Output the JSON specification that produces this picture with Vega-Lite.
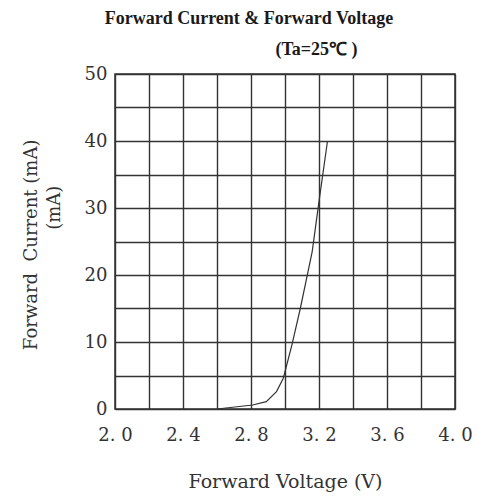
{
  "$schema": "https://vega.github.io/schema/vega-lite/v6.json",
  "width": 340,
  "height": 335,
  "autosize": {"type": "none"},
  "padding": {"left": 115, "top": 74, "right": 22, "bottom": 88},
  "background": "white",
  "title": {
    "text": "Forward Current & Forward Voltage",
    "subtitle": "\u200b\u00a0\u00a0\u00a0\u00a0\u00a0\u00a0\u00a0\u00a0\u00a0\u00a0\u00a0\u00a0\u00a0\u00a0\u00a0\u00a0\u00a0\u00a0\u00a0\u00a0\u00a0\u00a0\u00a0\u00a0\u00a0\u00a0\u00a0\u00a0\u00a0\u00a0(Ta=25℃ )",
    "font": "Liberation Serif",
    "fontWeight": "bold",
    "fontSize": 18,
    "color": "#1a1a1a",
    "subtitleFont": "Liberation Serif",
    "subtitleFontWeight": "bold",
    "subtitleFontSize": 18,
    "subtitleColor": "#1a1a1a",
    "anchor": "middle",
    "dx": -36,
    "offset": 6,
    "subtitlePadding": 13
  },
  "data": {
    "values": [
      {"voltage": 2.6, "current": 0},
      {"voltage": 2.81, "current": 0.6},
      {"voltage": 2.89, "current": 1.1},
      {"voltage": 2.95, "current": 2.6},
      {"voltage": 2.99, "current": 4.6},
      {"voltage": 3.04, "current": 9.5},
      {"voltage": 3.09, "current": 15},
      {"voltage": 3.16, "current": 23.5},
      {"voltage": 3.2, "current": 31},
      {"voltage": 3.25, "current": 40}
    ]
  },
  "mark": {"type": "line", "color": "#333333", "strokeWidth": 1.2},
  "encoding": {
    "x": {
      "field": "voltage",
      "type": "quantitative",
      "scale": {"domain": [2, 4], "nice": false, "zero": false},
      "axis": {
        "values": [2, 2.2, 2.4, 2.6, 2.8, 3, 3.2, 3.4, 3.6, 3.8, 4],
        "grid": true,
        "gridColor": "#333333",
        "gridWidth": 1.4,
        "gridOpacity": 1,
        "domain": false,
        "ticks": false,
        "labelExpr": "round(datum.value*10)%4==0 ? replace(format(datum.value,'.1f'),'.','. ') : ''",
        "labelFont": "DejaVu Serif",
        "labelFontSize": 18,
        "labelColor": "#333333",
        "labelPadding": 17,
        "labelFlush": false,
        "labelOverlap": false,
        "title": "Forward Voltage (V)",
        "titleFont": "DejaVu Serif",
        "titleFontSize": 19,
        "titleFontWeight": "normal",
        "titleColor": "#333333",
        "titlePadding": 28
      }
    },
    "y": {
      "field": "current",
      "type": "quantitative",
      "scale": {"domain": [0, 50], "nice": false},
      "axis": {
        "values": [0, 5, 10, 15, 20, 25, 30, 35, 40, 45, 50],
        "grid": true,
        "gridColor": "#333333",
        "gridWidth": 1.4,
        "gridOpacity": 1,
        "domain": false,
        "ticks": false,
        "labelExpr": "datum.value%10==0 ? datum.label : ''",
        "labelFont": "DejaVu Serif",
        "labelFontSize": 18,
        "labelColor": "#333333",
        "labelPadding": 8,
        "labelFlush": false,
        "labelOverlap": false,
        "title": ["Forward\u00a0 Current (mA)\u00a0\u200b", "\u200b\u00a0\u00a0\u00a0\u00a0\u00a0\u00a0\u00a0\u00a0\u00a0\u00a0\u00a0\u00a0(mA)"],
        "titleFont": "DejaVu Serif",
        "titleFontSize": 18,
        "titleFontWeight": "normal",
        "titleColor": "#333333",
        "titleLineHeight": 23,
        "titlePadding": 21
      }
    }
  },
  "config": {"view": {"stroke": "#333333", "strokeWidth": 1.5}}
}
